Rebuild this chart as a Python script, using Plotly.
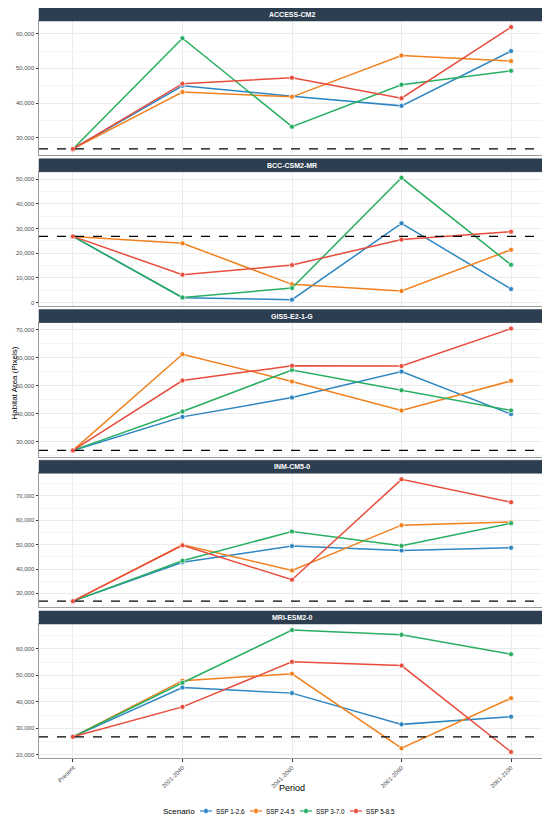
import plotly.graph_objects as go
from plotly.subplots import make_subplots

# Periods on the x axis
periods = ["Present", "2021-2040", "2041-2060", "2061-2080", "2081-2100"]
scenarios = ["SSP 1-2.6", "SSP 2-4.5", "SSP 3-7.0", "SSP 5-8.5"]
colors = ["#2E86C1", "#F0811E", "#27AE60", "#E74C3C"]
models = ["ACCESS-CM2", "BCC-CSM2-MR", "GISS-E2-1-G", "INM-CM5-0", "MRI-ESM2-0"]

# present-day habitat area (dashed reference line)
baseline = 26800

# habitat area (pixels) per scenario, one list per period
access_cm2 = {
    "SSP 1-2.6": [26800, 45000, 42000, 39200, 55000],
    "SSP 2-4.5": [26800, 43200, 41800, 53700, 52100],
    "SSP 3-7.0": [26800, 58700, 33200, 45300, 49300],
    "SSP 5-8.5": [26800, 45600, 47300, 41400, 61900],
}
bcc_csm2_mr = {
    "SSP 1-2.6": [26800, 2000, 1200, 32100, 5500],
    "SSP 2-4.5": [26800, 24000, 7400, 4700, 21400],
    "SSP 3-7.0": [26800, 2100, 5900, 50500, 15300],
    "SSP 5-8.5": [26800, 11300, 15200, 25500, 28700],
}
giss_e2_1_g = {
    "SSP 1-2.6": [26800, 38800, 45700, 55000, 39800],
    "SSP 2-4.5": [26800, 61200, 51500, 41100, 51700],
    "SSP 3-7.0": [26800, 40700, 55600, 48300, 41100],
    "SSP 5-8.5": [26800, 51800, 57100, 57000, 70400],
}
inm_cm5_0 = {
    "SSP 1-2.6": [26800, 42800, 49400, 47600, 48700],
    "SSP 2-4.5": [26800, 49900, 39400, 58000, 59300],
    "SSP 3-7.0": [26800, 43400, 55400, 49500, 58800],
    "SSP 5-8.5": [26800, 49700, 35600, 76800, 67400],
}
mri_esm2_0 = {
    "SSP 1-2.6": [26800, 45400, 43300, 31500, 34400],
    "SSP 2-4.5": [26800, 48000, 50600, 22500, 41400],
    "SSP 3-7.0": [26800, 47200, 67100, 65300, 58000],
    "SSP 5-8.5": [26800, 38100, 55100, 53700, 21100],
}
model_data = [access_cm2, bcc_csm2_mr, giss_e2_1_g, inm_cm5_0, mri_esm2_0]

# the page body adds an 8px margin, so the figure is a bit smaller than the window
OFF = 8
W, H = 550 - OFF, 825 - OFF
MT, MB, ML, MR = 0, 67, 31, 5
PANEL_STEP = 150.75  # px from one header top to the next
HEADER_H = 13
PLOT_H = 134
HEADER_BG = "#2C3E50"
FONT = "Liberation Sans, Arial, sans-serif"


def py(screen_y):
    """screen pixel row -> paper y"""
    return 1 - (screen_y - OFF - MT) / (H - MT - MB)


def px(screen_x):
    """screen pixel column -> paper x"""
    return (screen_x - OFF - ML) / (W - ML - MR)


fig = make_subplots(rows=5, cols=1, shared_xaxes=True, vertical_spacing=0.02)

for i, (model, data) in enumerate(zip(models, model_data)):
    row = i + 1
    for s, c in zip(scenarios, colors):
        fig.add_trace(go.Scatter(
            x=periods, y=data[s], name=s, mode="lines+markers",
            line=dict(color=c, width=1.5),
            marker=dict(color=c, size=5, line=dict(color="white", width=0.7)),
            showlegend=False,
            hovertemplate="<b>" + model + "</b><br>" + s + "<br>%{x}: %{y:,}<extra></extra>",
        ), row=row, col=1)

    # baseline dashed line across the panel
    yname = "y" if row == 1 else f"y{row}"
    xname = "x" if row == 1 else f"x{row}"
    fig.add_shape(type="line", xref=f"{xname} domain", yref=yname,
                  x0=0, x1=1, y0=baseline, y1=baseline,
                  line=dict(color="black", width=1.3, dash="dash"))

    # ggplot-like 5% expansion
    vals = [v for s in scenarios for v in data[s]] + [baseline]
    lo, hi = min(vals), max(vals)
    pad = (hi - lo) * 0.05

    top = OFF + MT + i * PANEL_STEP
    plot_top = top + HEADER_H
    plot_bot = plot_top + PLOT_H
    ykey = "yaxis" if row == 1 else f"yaxis{row}"
    fig.layout[ykey].domain = [py(plot_bot), py(plot_top)]
    fig.update_yaxes(range=[lo - pad, hi + pad], dtick=10000, tickformat=",",
                     row=row, col=1)

    # facet strip
    fig.add_shape(type="rect", xref="paper", yref="paper",
                  x0=0, x1=1, y0=py(plot_top), y1=py(top),
                  fillcolor=HEADER_BG, line=dict(color=HEADER_BG, width=0.5),
                  layer="above")
    fig.add_annotation(text=f"<b>{model}</b>", xref="paper", yref="paper",
                       x=0.5, y=(py(plot_top) + py(top)) / 2,
                       showarrow=False, font=dict(color="white", size=7, family=FONT),
                       yanchor="middle")

fig.update_xaxes(
    range=[-0.31, 4.31], showgrid=True, gridcolor="#EBEBEB", gridwidth=0.8,
    showline=True, linecolor="#9A9A9A", linewidth=1, mirror=True,
    zeroline=False, ticks="", showticklabels=False, automargin=False,
)
fig.update_xaxes(showticklabels=True, ticks="outside", ticklen=3, tickcolor="#333",
                 tickangle=-45, tickfont=dict(size=6, color="#4D4D4D"),
                 row=5, col=1)
fig.update_yaxes(
    showgrid=True, gridcolor="#EBEBEB", gridwidth=0.8,
    minor=dict(showgrid=True, gridcolor="#F5F5F5", gridwidth=0.6, dtick=5000),
    showline=True, linecolor="#9A9A9A", linewidth=1, mirror=True,
    zeroline=False, ticks="outside", ticklen=2.5, tickcolor="#333",
    tickfont=dict(size=6, color="#4D4D4D"), automargin=False,
)

fig.add_annotation(text="Habitat Area (Pixels)", xref="paper", yref="paper",
                   x=px(13.5), y=(py(OFF) + py(758)) / 2, textangle=-90, showarrow=False,
                   xanchor="center", yanchor="middle",
                   font=dict(size=8, color="black", family=FONT))
fig.add_annotation(text="Period", xref="paper", yref="paper",
                   x=0.5, y=py(788), showarrow=False, yanchor="middle",
                   font=dict(size=9, color="black", family=FONT))

# legend at the bottom, drawn compactly like ggplot's guide
leg_y = py(811)
fig.add_annotation(text="Scenario", xref="paper", yref="paper",
                   x=px(197), y=leg_y, xanchor="right", yanchor="middle",
                   showarrow=False, font=dict(size=8, color="black", family=FONT))
for k, (s, c) in enumerate(zip(scenarios, colors)):
    cx = 206 + k * 50
    fig.add_shape(type="line", xref="paper", yref="paper",
                  x0=px(cx - 6), x1=px(cx + 6), y0=leg_y, y1=leg_y,
                  line=dict(color=c, width=1.3))
    fig.add_shape(type="circle", xref="paper", yref="paper",
                  xsizemode="pixel", ysizemode="pixel",
                  xanchor=px(cx), yanchor=leg_y, x0=-2.5, x1=2.5, y0=-2.5, y1=2.5,
                  fillcolor=c, line=dict(color="white", width=0.5))
    fig.add_annotation(text=s, xref="paper", yref="paper",
                       x=px(cx + 8), y=leg_y, xanchor="left", yanchor="middle",
                       showarrow=False, font=dict(size=6.3, color="black", family=FONT))

fig.update_layout(
    width=W, height=H,
    margin=dict(l=ML, r=MR, t=MT, b=MB, autoexpand=False),
    plot_bgcolor="white", paper_bgcolor="white",
    font=dict(family=FONT, color="#4D4D4D"),
    hovermode="closest",
    showlegend=False,
)

fig.write_html("out.html")
